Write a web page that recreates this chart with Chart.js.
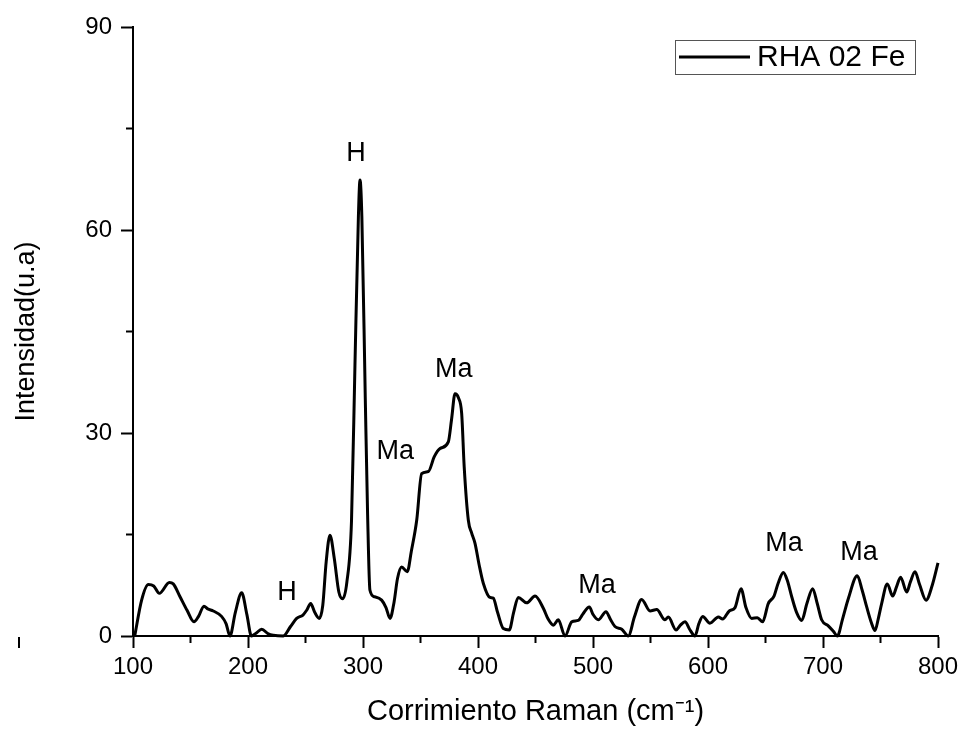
<!DOCTYPE html>
<html>
<head>
<meta charset="utf-8">
<title>RHA 02 Fe</title>
<script src="https://cdn.jsdelivr.net/npm/chart.js@4/dist/chart.umd.min.js"></script>
<style>
  html, body { margin: 0; padding: 0; background: #fff; }
  #wrap { width: 961px; height: 731px; }
</style>
</head>
<body>
<div id="wrap"><canvas id="raman" width="961" height="731"></canvas></div>
<script>
// Raman shift (cm-1) and intensity (u.a)
var shift = [101.5,107.5,113.3,118,122.9,131.6,135,140.9,147,153,157,161.7,165,169.8,177,181,184.3,189,194.5,199,203,207,211.9,217.7,222,230.7,237,242.3,247.8,251,254.5,258,262,265,268,271.3,275,279,282.3,286,290,293,296,297.4,299,302,304,306,310,316.2,320,323.5,327,330,333.6,338.5,342,346.7,351,356.8,362,367,374.2,377,380,383,385.8,388,391.6,394.5,397.4,401,404.6,410.4,413.3,417,422,427.2,431,435,442.3,449.6,456.8,461,465.5,469.8,475.7,481.5,487.2,491,496.8,500,504.6,511.3,515,519.1,525,530.7,536,542.3,549.6,555.4,562.6,565.5,572.2,576,580,584,588.7,592,595.4,601.7,609,612.7,618.5,623.5,628.7,633,638,642.9,647.5,652.4,657.4,661,665.5,669,672.8,677,681.5,686,691,695,698.8,704.6,709,712.5,717,722,729.8,734,738,742,745.2,748,751,755.9,760.6,764,767.5,772.8,776,780,784,789.6,795,800];
var intensity = [0,5.3,7.6,7.4,6.3,7.9,7.7,5.8,3.8,2.1,2.9,4.4,4.0,3.7,2.9,1.8,0,3.5,6.4,3.2,0,0.4,1.0,0.3,0.1,0,1.4,2.6,3.1,3.8,4.8,3.5,2.6,4.5,11.0,14.9,11.5,6.5,5.5,8,17,40,62,67.4,62,35,18,6.8,5.8,5.3,4.2,2.6,5,8.5,10.2,9.5,12.5,17.1,24.0,24.3,26.5,27.7,28.7,32,35.8,35.2,32.9,25,17.1,15.2,13.7,10.5,7.8,5.7,5.6,3.5,1.1,0.9,3.5,5.7,4.9,5.9,4.1,2.5,1.6,2.4,0,2.1,2.3,3.2,4.3,3.2,2.4,3.6,2.5,1.4,1.0,0,2.8,5.4,3.7,3.9,2.4,2.8,0.9,1.6,2.1,1.0,0,1.8,2.9,1.9,2.8,2.5,3.7,4.2,7.0,4.2,2.6,2.7,2.1,4.8,5.9,7.8,9.4,8.2,5.8,3.5,2.3,4.8,7.0,4.8,2.4,1.5,0.7,0,2.5,5.5,8.9,6.8,4.3,2.0,0.8,2.5,4.8,7.7,5.9,7.3,8.7,6.5,8.0,9.5,7.6,5.3,7.5,10.8];

// band assignments written over the spectrum
var bandNames = ['H','H','Ma','Ma','Ma','Ma','Ma'];
var bandShift = [234,294,328,379,503.5,666,731.3];
var bandLevel = [6.4,71.3,27.2,39.4,7.5,13.6,12.3];

var xTicks = [100,200,300,400,500,600,700,800];
var yTicks = [0,30,60,90];

var seriesName = 'RHA 02 Fe';

var points = [];
for (let i = 0; i < shift.length; i++) {
  points.push({x: shift[i], y: intensity[i]});
}

var FONT = 'Arial, "Liberation Sans", sans-serif';

var extras = {
  id: 'extras',
  afterDraw: function(chart) {
    var c = chart.ctx;
    var xs = chart.scales.x, ys = chart.scales.y;
    var area = chart.chartArea;
    c.save();
    // minor ticks
    c.strokeStyle = '#000';
    c.lineWidth = 2;
    for (let v = 150; v < 800; v += 100) {
      var px = xs.getPixelForValue(v);
      c.beginPath(); c.moveTo(px, area.bottom); c.lineTo(px, area.bottom + 7); c.stroke();
    }
    for (let v = 15; v < 90; v += 30) {
      var py = ys.getPixelForValue(v);
      c.beginPath(); c.moveTo(area.left, py); c.lineTo(area.left - 7, py); c.stroke();
    }
    // little mark at left edge
    c.beginPath(); c.moveTo(19, 637); c.lineTo(19, 648); c.stroke();

    // band labels
    c.fillStyle = '#000';
    c.font = '27px ' + FONT;
    c.textAlign = 'center';
    c.textBaseline = 'middle';
    for (let i = 0; i < bandNames.length; i++) {
      c.fillText(bandNames[i], xs.getPixelForValue(bandShift[i]), ys.getPixelForValue(bandLevel[i]));
    }

    // legend box
    c.strokeStyle = '#555';
    c.lineWidth = 1;
    c.strokeRect(675.5, 40.5, 240, 34);
    c.strokeStyle = '#000';
    c.lineWidth = 3;
    c.beginPath(); c.moveTo(679, 57); c.lineTo(750, 57); c.stroke();
    c.font = '30px ' + FONT;
    c.textAlign = 'left';
    c.fillText(chart.data.datasets[0].label, 757, 58);
    c.restore();
  }
};

var ctx = document.getElementById('raman');
var ramanChart = new Chart(ctx, {
  type: 'line',
  data: {
    datasets: [{
      label: seriesName,
      data: points,
      borderColor: '#000',
      borderWidth: 3,
      pointRadius: 0,
      fill: false,
      cubicInterpolationMode: 'monotone',
      clip: 6
    }]
  },
  options: {
    responsive: false,
    animation: false,
    layout: { padding: { left: 0, right: 23, top: 27, bottom: 0 } },
    plugins: { legend: { display: false }, tooltip: { enabled: false } },
    scales: {
      x: {
        type: 'linear',
        min: 100, max: 800,
        afterFit: function(s) { s.height = 95; s.paddingLeft = 0; s.paddingRight = 0; },
        afterBuildTicks: function(s) {
          s.ticks = [];
          for (let v = 100; v <= 800; v += 50) s.ticks.push({value: v});
        },
        ticks: {
          autoSkip: false, maxRotation: 0, padding: 5, color: '#000',
          font: { size: 24, family: FONT },
          callback: function(v) { return xTicks.indexOf(v) >= 0 ? String(v) : ''; }
        },
        grid: {
          drawOnChartArea: false, drawTicks: true, tickLength: 12, tickWidth: 2,
          tickColor: function(c) { return xTicks.indexOf(c.tick.value) >= 0 ? '#000' : 'rgba(0,0,0,0)'; }
        },
        border: { display: true, color: '#000', width: 2 },
        title: {
          display: true, text: 'Corrimiento Raman (cm\u207B\u00B9)', color: '#000',
          font: { size: 29, family: FONT }, padding: { top: 0, bottom: 2 }
        }
      },
      y: {
        min: 0, max: 90,
        afterFit: function(s) { s.width = 133; s.paddingTop = 0; s.paddingBottom = 0; },
        afterBuildTicks: function(s) {
          s.ticks = [];
          for (let v = 0; v <= 90; v += 15) s.ticks.push({value: v});
        },
        ticks: {
          autoSkip: false, padding: 9, color: '#000',
          font: { size: 24, family: FONT },
          callback: function(v) { return yTicks.indexOf(v) >= 0 ? String(v) : ''; }
        },
        grid: {
          drawOnChartArea: false, drawTicks: true, tickLength: 12, tickWidth: 2,
          tickColor: function(c) { return yTicks.indexOf(c.tick.value) >= 0 ? '#000' : 'rgba(0,0,0,0)'; }
        },
        border: { display: true, color: '#000', width: 2 },
        title: {
          display: true, text: 'Intensidad(u.a)', color: '#000',
          font: { size: 27, family: FONT }, padding: { top: 10, bottom: 0 }
        }
      }
    }
  },
  plugins: [extras]
});
</script>
</body>
</html>
